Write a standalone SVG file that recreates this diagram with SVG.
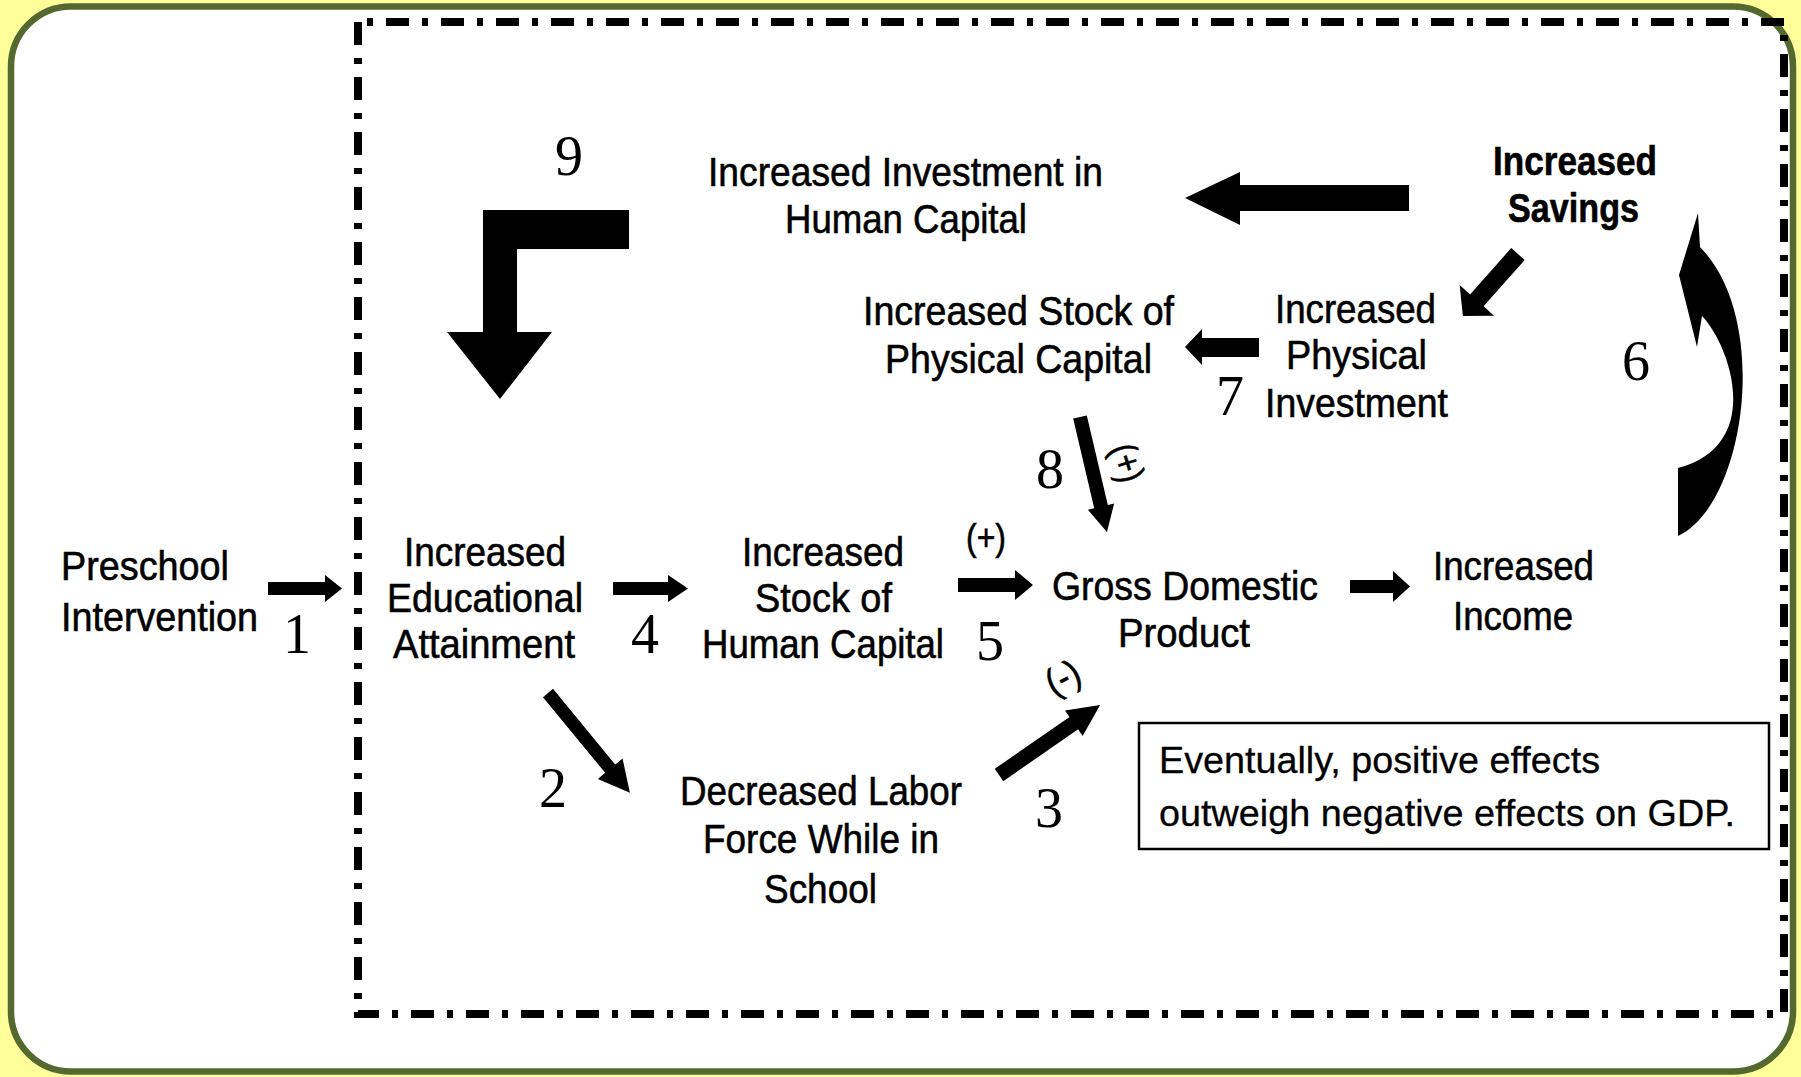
<svg xmlns="http://www.w3.org/2000/svg" width="1801" height="1077" viewBox="0 0 1801 1077">
<style>
.n{font-family:"Liberation Sans",Arial,sans-serif;font-size:41px;fill:#000;stroke:#000;stroke-width:0.6px}
.b{font-weight:bold}
.d{font-family:"Liberation Serif","Times New Roman",serif;font-size:56px;fill:#000;text-anchor:middle}
.s{font-family:"Liberation Sans",Arial,sans-serif;font-size:37px;fill:#000;stroke:#000;stroke-width:0.3px}
.p{font-family:"Liberation Sans",Arial,sans-serif;font-size:37px;fill:#000;text-anchor:middle;stroke:#000;stroke-width:0.6px}
.arr{fill:#000}
</style>
<rect x="0" y="0" width="1801" height="1077" fill="#FFFF99"/>
<rect x="11" y="6.5" width="1782" height="1065" rx="60" ry="60" fill="#FFFFFF" stroke="#556830" stroke-width="6.5"/>
<rect id="boundary" x="358" y="22" width="1426" height="992" fill="none" stroke="#000" stroke-width="8" stroke-dasharray="23 13 6 13" stroke-dashoffset="27"/>

<g id="connectors">
  <polygon class="arr" points="268,582 325,582 325,575 342,588.5 325,602 325,595 268,595"/>
  <polygon class="arr" points="613,582 668,582 668,575 688,588.5 668,602 668,595 613,595"/>
  <polygon class="arr" points="958,578 1015,578 1015,570 1033,585 1015,600 1015,592 958,592"/>
  <polygon class="arr" points="1350,580 1393,580 1393,571 1410,586.5 1393,602 1393,593 1350,593"/>
  <polygon class="arr" transform="translate(548,693) rotate(50.6)" points="0,-6.5 98,-6.5 98,-16 129,0 98,16 98,6.5 0,6.5"/>
  <polygon class="arr" transform="translate(999,775) rotate(-34.7)" points="0,-7.5 91,-7.5 91,-15.5 123,0 91,15.5 91,7.5 0,7.5"/>
  <polygon class="arr" transform="translate(1080,417) rotate(76.8)" points="0,-7 92,-7 92,-13.5 118,0 92,13.5 92,7 0,7"/>
  <polygon class="arr" transform="translate(1518,254) rotate(131.6)" points="0,-9 62,-9 62,-23 83,0 62,23 62,9 0,9"/>
  <polygon class="arr" points="1259,338 1202,338 1202,329 1185,347 1202,365 1202,357 1259,357"/>
  <polygon class="arr" points="1409,185 1240,185 1240,172 1185,198 1240,225 1240,211 1409,211"/>
  <polygon class="arr" points="483,210 629,210 629,249 517,249 517,332 552,332 500,399 447,332 483,332"/>
  <path class="arr" d="M1698,213 L1679,275 L1697,347 L1702,316 C1730,345 1765,445 1678,468 L1678,536 C1745,505 1772,320 1700,247 Z"/>
</g>

<g id="labels">
  <text class="d" x="297" y="653">1</text>
  <text class="d" x="553" y="807">2</text>
  <text class="d" x="1049" y="827">3</text>
  <text class="d" x="645" y="653">4</text>
  <text class="d" x="990" y="660">5</text>
  <text class="d" x="1636" y="380">6</text>
  <text class="d" x="1230" y="415">7</text>
  <text class="d" x="1050" y="488">8</text>
  <text class="d" x="569" y="175">9</text>
  <text class="p" x="986" y="550" textLength="40" lengthAdjust="spacingAndGlyphs">(+)</text>
  <g transform="translate(1127,463) rotate(73)"><text class="p" x="0" y="12" textLength="38" lengthAdjust="spacingAndGlyphs">(+)</text></g>
  <g transform="translate(1063,678) rotate(-28)"><text class="p" x="0" y="12" textLength="34" lengthAdjust="spacingAndGlyphs">(-)</text></g>
</g>

<g id="preschool">
  <text class="n" x="61" y="580" textLength="168" lengthAdjust="spacingAndGlyphs">Preschool</text>
  <text class="n" x="61" y="631" textLength="197" lengthAdjust="spacingAndGlyphs">Intervention</text>
</g>
<g id="education">
  <text class="n" x="404" y="566" textLength="162" lengthAdjust="spacingAndGlyphs">Increased</text>
  <text class="n" x="387" y="612" textLength="196" lengthAdjust="spacingAndGlyphs">Educational</text>
  <text class="n" x="393" y="658" textLength="182" lengthAdjust="spacingAndGlyphs">Attainment</text>
</g>
<g id="human-capital">
  <text class="n" x="742" y="566" textLength="162" lengthAdjust="spacingAndGlyphs">Increased</text>
  <text class="n" x="755" y="612" textLength="137" lengthAdjust="spacingAndGlyphs">Stock of</text>
  <text class="n" x="702" y="658" textLength="242" lengthAdjust="spacingAndGlyphs">Human Capital</text>
</g>
<g id="gdp">
  <text class="n" x="1052" y="600" textLength="266" lengthAdjust="spacingAndGlyphs">Gross Domestic</text>
  <text class="n" x="1118" y="647" textLength="132" lengthAdjust="spacingAndGlyphs">Product</text>
</g>
<g id="income">
  <text class="n" x="1433" y="580" textLength="161" lengthAdjust="spacingAndGlyphs">Increased</text>
  <text class="n" x="1453" y="630" textLength="120" lengthAdjust="spacingAndGlyphs">Income</text>
</g>
<g id="labor-force">
  <text class="n" x="680" y="805" textLength="282" lengthAdjust="spacingAndGlyphs">Decreased Labor</text>
  <text class="n" x="703" y="853" textLength="236" lengthAdjust="spacingAndGlyphs">Force While in</text>
  <text class="n" x="764" y="903" textLength="113" lengthAdjust="spacingAndGlyphs">School</text>
</g>
<g id="invest-human">
  <text class="n" x="708" y="186" textLength="395" lengthAdjust="spacingAndGlyphs">Increased Investment in</text>
  <text class="n" x="785" y="233" textLength="242" lengthAdjust="spacingAndGlyphs">Human Capital</text>
</g>
<g id="physical-capital">
  <text class="n" x="863" y="325" textLength="311" lengthAdjust="spacingAndGlyphs">Increased Stock of</text>
  <text class="n" x="885" y="373" textLength="267" lengthAdjust="spacingAndGlyphs">Physical Capital</text>
</g>
<g id="physical-investment">
  <text class="n" x="1275" y="323" textLength="161" lengthAdjust="spacingAndGlyphs">Increased</text>
  <text class="n" x="1286" y="369" textLength="141" lengthAdjust="spacingAndGlyphs">Physical</text>
  <text class="n" x="1265" y="417" textLength="183" lengthAdjust="spacingAndGlyphs">Investment</text>
</g>
<g id="savings">
  <text class="n b" x="1493" y="175" textLength="164" lengthAdjust="spacingAndGlyphs">Increased</text>
  <text class="n b" x="1508" y="222" textLength="131" lengthAdjust="spacingAndGlyphs">Savings</text>
</g>
<g id="note">
  <rect x="1139" y="723" width="630" height="126" fill="#fff" stroke="#000" stroke-width="2.5"/>
  <text class="s" x="1159" y="773" textLength="441" lengthAdjust="spacingAndGlyphs">Eventually, positive effects</text>
  <text class="s" x="1159" y="826" textLength="576" lengthAdjust="spacingAndGlyphs">outweigh negative effects on GDP.</text>
</g>
</svg>
